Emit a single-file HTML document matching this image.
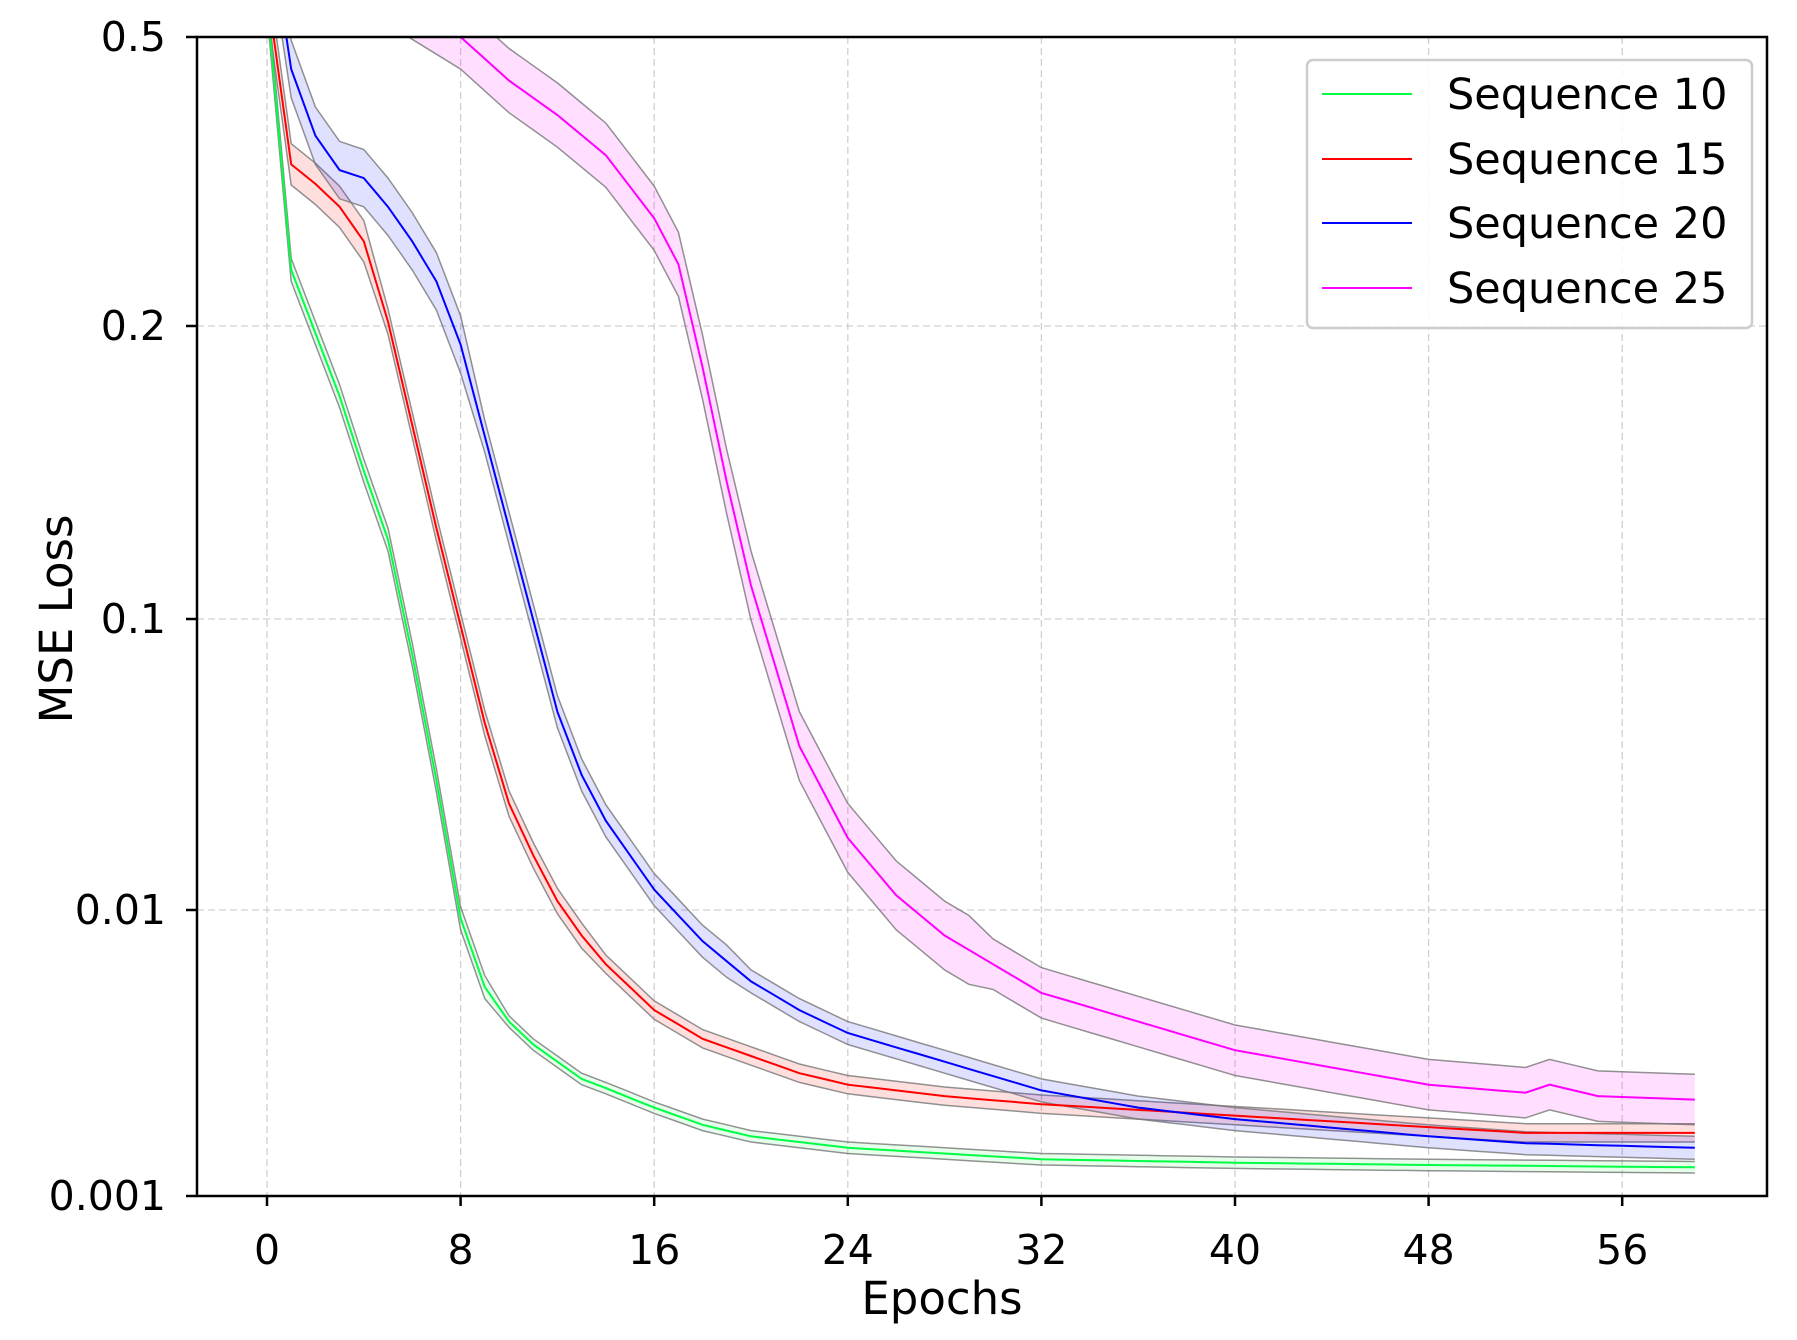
<!DOCTYPE html>
<html><head><meta charset="utf-8"><style>
html,body{margin:0;padding:0;background:#fff;}
svg{display:block;font-family:"DejaVu Sans","Liberation Sans",sans-serif;}
</style></head><body>
<svg id="s" width="1797" height="1340" viewBox="0 0 1797 1340" xmlns="http://www.w3.org/2000/svg">
<defs><clipPath id="c"><rect x="197" y="37" width="1570" height="1159"/></clipPath></defs>
<rect width="1797" height="1340" fill="#fff"/>
<g id="grid" stroke="#d0d0d0" stroke-width="1.3" stroke-dasharray="7,4"></g>
<g id="data" clip-path="url(#c)"></g>
<rect x="197" y="37" width="1570" height="1159" fill="none" stroke="#000" stroke-width="2.5"/>
<g id="ticks" stroke="#000" stroke-width="2.5"></g>
<g id="labels" font-size="41" fill="#000"></g>
<text x="942" y="1314" font-size="45" text-anchor="middle">Epochs</text>
<text transform="translate(72,619) rotate(-90)" font-size="45" text-anchor="middle">MSE Loss</text>
<g>
<rect x="1307" y="60" width="445" height="268" rx="6" fill="#fff" fill-opacity="0.85" stroke="#ccc" stroke-width="2.5"/>
<line x1="1322" y1="94" x2="1412" y2="94" stroke="#00ff44" stroke-width="2"/>
<line x1="1322" y1="159" x2="1412" y2="159" stroke="#ff0000" stroke-width="2"/>
<line x1="1322" y1="223" x2="1412" y2="223" stroke="#0000ff" stroke-width="2"/>
<line x1="1322" y1="288" x2="1412" y2="288" stroke="#ff00ff" stroke-width="2"/>
<g font-size="43" fill="#000">
<text x="1447" y="109">Sequence 10</text>
<text x="1447" y="174">Sequence 15</text>
<text x="1447" y="238">Sequence 20</text>
<text x="1447" y="303">Sequence 25</text>
</g>
</g>
</svg>
<script>
const NS="http://www.w3.org/2000/svg";
const X=e=>267+24.2*e, Y=d=>37+(d-32)*1.1475;
const g=document.getElementById('grid'),t=document.getElementById('ticks'),l=document.getElementById('labels'),dg=document.getElementById('data');
function el(p,n,a,txt){const e=document.createElementNS(NS,n);for(const k in a)e.setAttribute(k,a[k]);if(txt)e.textContent=txt;p.appendChild(e);return e;}
for(let i=0;i<8;i++){const x=X(8*i);el(g,'line',{x1:x,y1:37,x2:x,y2:1196});el(t,'line',{x1:x,y1:1196,x2:x,y2:1206});el(l,'text',{x:x,y:1264,'text-anchor':'middle'},String(8*i));}
[[37,'0.5'],[326,'0.2'],[619,'0.1'],[910,'0.01'],[1196,'0.001']].forEach(([y,s])=>{el(g,'line',{x1:197,y1:y,x2:1767,y2:y});el(t,'line',{x1:186,y1:y,x2:197,y2:y});el(l,'text',{x:166,y:y+14,'text-anchor':'end'},s);});
function interp(pts){const out=[];for(let e=0;e<=59;e++){let v;for(let i=0;i<pts.length-1;i++){if(e>=pts[i][0]&&e<=pts[i+1][0]){const f=(e-pts[i][0])/(pts[i+1][0]-pts[i][0]);v=pts[i][1]+f*(pts[i+1][1]-pts[i][1]);}}if(e<pts[0][0])v=null;out.push(v);}return out;}
const S=[
{c:'#00ff44',f:'rgba(0,255,60,0.10)',h:e=>e<10?10:5,p:[[0,0],[1,235],[2,290],[3,345],[4,410],[5,470],[6,570],[7,680],[8,800],[9,860],[10,890],[11,910],[12,925],[13,940],[14,948],[16,965],[18,980],[20,990],[24,1000],[32,1010],[40,1013],[48,1015],[59,1017]]},
{c:'#ff0000',f:'rgba(255,0,0,0.13)',h:e=>e<5?18:(e<14?11:8),p:[[0,-10],[1,143],[2,160],[3,180],[4,210],[5,280],[6,370],[7,460],[8,545],[9,630],[10,700],[11,745],[12,785],[13,815],[14,840],[16,880],[18,905],[20,920],[22,935],[24,945],[28,955],[32,962],[40,972],[48,982],[52,987],[59,987]]},
{c:'#0000ff',f:'rgba(0,0,255,0.12)',h:e=>e<9?25:(e<20?14:10),p:[[0,-80],[1,60],[2,118],[3,148],[4,155],[5,180],[6,210],[7,245],[8,300],[9,380],[10,460],[11,540],[12,620],[13,675],[14,715],[16,775],[18,820],[20,855],[22,880],[24,900],[28,925],[32,950],[36,965],[40,975],[48,990],[52,996],[59,1000]]},
{c:'#ff00ff',f:'rgba(255,0,255,0.13)',h:e=>e<20?28:(e<30?30:22),p:[[4,-20],[8,32],[10,70],[12,100],[14,135],[16,190],[17,230],[18,320],[19,420],[20,510],[21,580],[22,650],[24,730],[26,780],[28,815],[30,840],[32,865],[36,890],[40,915],[44,930],[48,945],[52,952],[53,945],[55,955],[59,958]]}
];
S.forEach(s=>{const v=interp(s.p);const idx=[];for(let e=0;e<=59;e++)if(v[e]!=null)idx.push(e);
const up=idx.map(e=>[X(e),Y(v[e]-s.h(e))]),dn=idx.map(e=>[X(e),Y(v[e]+s.h(e))]),m=idx.map(e=>[X(e),Y(v[e])]);
const P=a=>a.map(p=>p[0].toFixed(1)+','+p[1].toFixed(1)).join(' ');
el(dg,'polygon',{points:P(up)+' '+P(dn.slice().reverse()),fill:s.f});
el(dg,'polyline',{points:P(up),fill:'none',stroke:'#777','stroke-width':1.5,'stroke-opacity':0.8});
el(dg,'polyline',{points:P(dn),fill:'none',stroke:'#777','stroke-width':1.5,'stroke-opacity':0.8});
s.m=P(m);});
S.forEach(s=>el(dg,'polyline',{points:s.m,fill:'none',stroke:s.c,'stroke-width':2}));
</script>
</body></html>
